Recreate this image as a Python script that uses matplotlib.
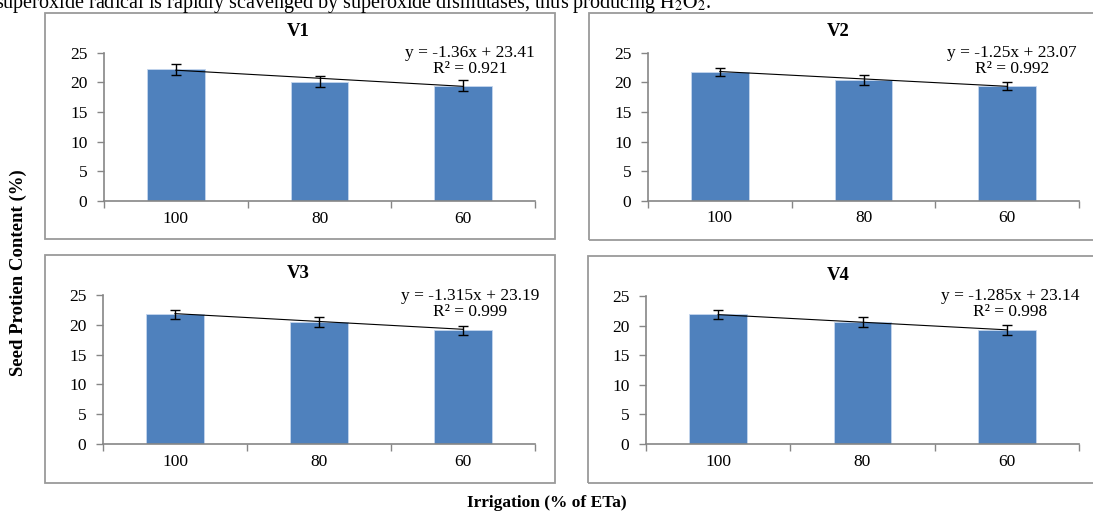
import numpy as np
import matplotlib
matplotlib.use("Agg")
import matplotlib.pyplot as plt
from matplotlib.patches import Rectangle

plt.rcParams['font.family'] = ['Liberation Serif', 'DejaVu Serif']
plt.rcParams['mathtext.fontset'] = 'stix'

# data
categories = ['100', '80', '60']
titles = ['V1', 'V2', 'V3', 'V4']
means = [
    [22.17, 20.14, 19.45],
    [21.79, 20.38, 19.37],
    [21.74, 20.46, 19.08],
    [21.90, 20.61, 19.26],
]
errors = [
    [0.85, 0.90, 0.88],
    [0.70, 0.79, 0.73],
    [0.75, 0.77, 0.80],
    [0.79, 0.82, 0.79],
]
slopes = [-1.36, -1.25, -1.315, -1.285]
intercepts = [23.41, 23.07, 23.19, 23.14]
r_squared = ['0.921', '0.992', '0.999', '0.998']

BAR_COLOR = '#4F81BD'
W, H = 1093, 511


def fx(x):
    return x / W


def fy(y):
    return 1 - y / H


# pixel layout of each chart (box, plot area, title, equation)
boxes = [(45, 13, 555, 239), (589, 13, 1100, 240), (45, 255, 555, 483), (588, 256, 1100, 483)]
plot_areas = [(104, 52.7, 535, 201), (648, 52.7, 1079, 200.7), (103, 295, 535, 444), (646, 296, 1079, 444)]
title_pos = [(298, 31), (838, 31), (298, 274), (838, 275)]
eq_pos = [(470, 61), (1012, 61), (470, 304), (1010, 304)]

fig = plt.figure(figsize=(W / 100, H / 100), dpi=100)

# clipped line of body text above the figure
fig.text(fx(-5), fy(8), 'superoxide radical is rapidly scavenged by superoxide dismutases, '
         r'thus producing $\mathrm{H_2O_2}$.', fontsize=14.5, va='baseline', ha='left')

x = np.arange(1, len(categories) + 1)

for i in range(4):
    bx0, by0, bx1, by1 = boxes[i]
    fig.patches.append(Rectangle((fx(bx0), fy(by1)), fx(bx1 - bx0), (by1 - by0) / H,
                                 transform=fig.transFigure, fill=False,
                                 edgecolor='#9a9a9a', linewidth=1.3))

    l, t, r, b = plot_areas[i]
    ax = fig.add_axes([fx(l), fy(b), (r - l) / W, (b - t) / H])
    ax.bar(x, means[i], width=0.4, color=BAR_COLOR, edgecolor='#c5d6ee', linewidth=0.6, zorder=2)
    ax.errorbar(x, means[i], yerr=errors[i], fmt='none', ecolor='black',
                elinewidth=1.0, capsize=3.5, capthick=1.0, zorder=4)
    trend = slopes[i] * x + intercepts[i]
    ax.plot(x, trend, color='black', linewidth=0.8, zorder=3)

    ax.set_xlim(0.5, 3.5)
    ax.set_ylim(0, 25)
    ax.set_yticks(np.arange(0, 26, 5))
    ax.set_xticks([0.5, 1.5, 2.5, 3.5])
    ax.set_xticklabels([])
    ax.set_xticks(x, minor=True)
    ax.set_xticklabels(categories, minor=True)
    ax.tick_params(axis='x', which='major', direction='out', length=5, width=1, color='#868686')
    ax.tick_params(axis='x', which='minor', length=0, pad=7, labelsize=12.5)
    ax.tick_params(axis='y', direction='out', length=5, width=1, color='#868686', pad=7, labelsize=12.5)
    for side in ['top', 'right']:
        ax.spines[side].set_visible(False)
    for side in ['left', 'bottom']:
        ax.spines[side].set_color('#868686')
        ax.spines[side].set_linewidth(1.2)
    ax.patch.set_alpha(0)

    tx, ty = title_pos[i]
    fig.text(fx(tx), fy(ty), titles[i], fontsize=13.5, fontweight='bold', ha='center', va='center')
    ex, ey = eq_pos[i]
    fig.text(fx(ex), fy(ey), f'y = {slopes[i]}x + {intercepts[i]}\nR² = {r_squared[i]}',
             fontsize=12.5, ha='center', va='center', multialignment='center', linespacing=0.95)

fig.text(fx(18), fy(273), 'Seed Protien Content (%)', rotation=90, fontsize=13.5,
         fontweight='bold', ha='center', va='center')
fig.text(fx(547), fy(503), 'Irrigation (% of ETa)', fontsize=12.5, fontweight='bold',
         ha='center', va='center')

fig.savefig('out.png', dpi=100)
